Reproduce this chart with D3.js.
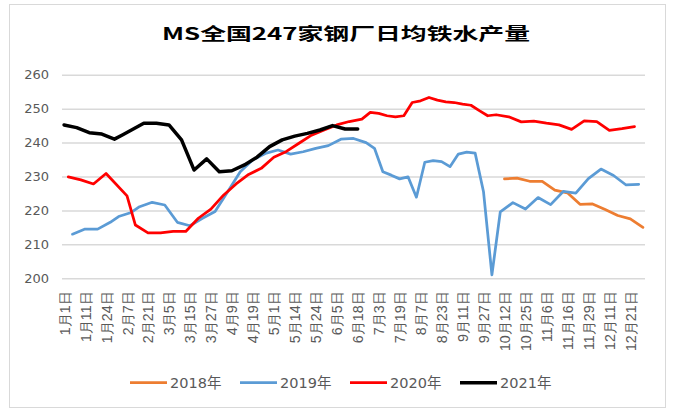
<!DOCTYPE html>
<html>
<head>
<meta charset="utf-8">
<script src="https://cdn.jsdelivr.net/npm/d3@7"></script>
<style>
  body { margin: 0; background: #fff; }
  svg { display: block; }
</style>
</head>
<body>
<svg id="chart"></svg>
<script>
const width = 674;
const height = 412;
const title = 'MS全国247家钢厂日均铁水产量';

// weekly survey dates (month/day) and values per year
const dates2018 = ['10/12', '10/19', '10/26', '11/2', '11/9', '11/16', '11/23', '11/30', '12/7', '12/14', '12/21', '12/28'];
const values2018 = [229.3, 229.5, 228.6, 228.6, 226.0, 225.2, 221.8, 221.9, 220.3, 218.5, 217.5, 215.0];

const dates2019 = ['1/4', '1/11', '1/18', '1/25', '2/1', '2/8', '2/15', '2/22', '3/1', '3/8', '3/15', '3/22', '3/29',
    '4/5', '4/12', '4/19', '4/26', '5/3', '5/10', '5/17', '5/24', '5/31', '6/7', '6/14', '6/21', '6/28',
    '7/5', '7/12', '7/19', '7/26', '8/2', '8/9', '8/16', '8/23', '8/30', '9/6', '9/13', '9/20', '9/27',
    '10/4', '10/11', '10/18', '10/25', '11/1', '11/8', '11/15', '11/22', '11/29', '12/6', '12/13', '12/20', '12/27'];
const values2019 = [213.0, 214.5, 214.5, 216.5, 218.2, 219.4, 221.1, 222.4, 221.6, 216.5, 215.5, 217.7, 219.7,
    225.5, 231.4, 234.9, 236.8, 237.8, 236.6, 237.3, 238.3, 239.1, 241.0, 241.2, 240.0, 238.3,
    231.4, 230.4, 229.3, 229.9, 223.9, 234.2, 234.7, 234.4, 232.9, 236.6, 237.2, 236.9, 225.5,
    201.0, 219.6, 222.3, 220.4, 223.8, 221.7, 225.6, 225.1, 229.4, 232.2, 230.3, 227.5, 227.7];

const dates2020 = ['1/3', '1/10', '1/17', '1/24', '2/7', '2/14', '2/21', '2/28', '3/6', '3/13', '3/20', '3/27',
    '4/3', '4/10', '4/17', '4/24', '5/1', '5/8', '5/15', '5/22', '5/29', '6/5', '6/12', '6/19', '6/26',
    '7/3', '7/10', '7/17', '7/24', '7/31', '8/7', '8/14', '8/21', '8/28', '9/4', '9/11', '9/18', '9/25',
    '10/2', '10/9', '10/16', '10/23', '10/30', '11/6', '11/13', '11/20', '11/27', '12/4', '12/11', '12/18', '12/25'];
const values2020 = [229.9, 229.0, 227.8, 230.9, 224.3, 215.7, 213.4, 213.4, 213.8, 213.8, 217.7, 220.4,
    224.5, 227.8, 230.6, 232.4, 235.7, 237.4, 239.8, 242.2, 243.7, 245.2, 246.2, 246.9, 248.9,
    248.6, 247.9, 247.6, 247.9, 251.8, 252.3, 253.3, 252.5, 252.0, 251.8, 251.3, 251.0, 249.4,
    247.9, 248.2, 247.6, 246.1, 246.3, 245.7, 245.2, 243.9, 246.4, 246.2, 243.6, 244.1, 244.7];

const dates2021 = ['1/1', '1/8', '1/15', '1/22', '1/29', '2/5', '2/19', '2/26', '3/5', '3/12', '3/19', '3/26',
    '4/2', '4/9', '4/16', '4/23', '4/30', '5/7', '5/14', '5/21', '5/28', '6/4', '6/11', '6/18'];
const values2021 = [245.2, 244.4, 242.9, 242.5, 241.0, 242.3, 245.7, 245.7, 245.2, 240.8, 231.9, 235.2,
    231.4, 231.7, 233.4, 235.7, 238.8, 240.8, 241.9, 242.7, 243.7, 245.0, 244.0, 244.0];

// labelled categories on the x axis
const tickDates = ['1/1', '1/11', '1/24', '2/7', '2/21', '3/5', '3/15', '3/27', '4/9', '4/19', '5/1', '5/14',
    '5/24', '6/5', '6/18', '7/3', '7/19', '8/7', '8/23', '9/11', '9/27', '10/12', '10/25', '11/6',
    '11/16', '11/29', '12/11', '12/21'];
const yTicks = [200, 210, 220, 230, 240, 250, 260];

const series = [
    { name: '2018年', color: '#ED7D31', width: 2.75, dates: dates2018, values: values2018 },
    { name: '2019年', color: '#5B9BD5', width: 2.75, dates: dates2019, values: values2019 },
    { name: '2020年', color: '#FF0000', width: 2.75, dates: dates2020, values: values2020 },
    { name: '2021年', color: '#000000', width: 3.5, dates: dates2021, values: values2021 }
];

const dayKey = s => { const [m, d] = s.split('/').map(Number); return m * 100 + d; };
const label = s => { const [m, d] = s.split('/'); return `${m}月${d}日`; };

// category axis = every survey date of every year, in calendar order
const categories = Array.from(new Set(series.flatMap(s => s.dates)))
    .sort((a, b) => dayKey(a) - dayKey(b));

const svg = d3.select('#chart')
    .attr('width', width)
    .attr('height', height)
    .style('font-family', '"DejaVu Sans", "Noto Sans CJK SC", sans-serif');

// chart border
svg.append('rect')
    .attr('x', 9.5).attr('y', 4.5)
    .attr('width', 656).attr('height', 403)
    .attr('fill', 'none')
    .attr('stroke', '#d9d9d9')
    .attr('stroke-width', 1);

svg.append('text')
    .attr('x', 346).attr('y', 39.5)
    .attr('text-anchor', 'middle')
    .attr('textLength', 368)
    .attr('lengthAdjust', 'spacingAndGlyphs')
    .style('font-family', '"Noto Sans CJK SC", sans-serif')
    .style('font-weight', 'bold')
    .style('font-size', '17px')
    .attr('fill', '#000')
    .text(title);

const x = d3.scalePoint()
    .domain(categories)
    .range([62, 645])
    .padding(0.5);

const y = d3.scaleLinear()
    .domain([200, 260])
    .range([278.3, 74.7]);

// gridlines + y labels
const yAxis = svg.append('g')
    .attr('transform', 'translate(62,0)')
    .call(d3.axisLeft(y).tickValues(yTicks).tickSize(-583).tickPadding(13).tickFormat(d3.format('d')));
yAxis.select('.domain').remove();
yAxis.selectAll('line').attr('stroke', '#d9d9d9').attr('stroke-width', 1.5);
yAxis.selectAll('text')
    .attr('fill', '#595959')
    .style('font-size', '13px')
    .style('font-family', '"DejaVu Sans", sans-serif');

// x labels, rotated
const xAxis = svg.append('g')
    .attr('transform', 'translate(0,278.3)')
    .call(d3.axisBottom(x).tickValues(tickDates).tickSize(0).tickFormat(label));
xAxis.select('.domain').remove();
xAxis.selectAll('text')
    .attr('fill', '#595959')
    .style('font-size', '14.3px')
    .attr('text-anchor', 'end')
    .attr('dy', null)
    .attr('dominant-baseline', 'central')
    .attr('y', 0)
    .attr('transform', 'translate(0,13) rotate(-90)');

// series lines
const line = d3.line()
    .x(d => x(d[0]))
    .y(d => y(d[1]));

svg.append('g')
    .selectAll('path')
    .data(series)
    .join('path')
    .attr('d', s => line(s.dates.map((dt, i) => [dt, s.values[i]])))
    .attr('fill', 'none')
    .attr('stroke', s => s.color)
    .attr('stroke-width', s => s.width)
    .attr('stroke-linejoin', 'round')
    .attr('stroke-linecap', 'round');

// legend
const legend = svg.append('g')
    .selectAll('g')
    .data(series)
    .join('g')
    .attr('transform', (s, i) => `translate(${130 + i * 110},382.7)`);
legend.append('line')
    .attr('x1', 0).attr('x2', 37)
    .attr('stroke', s => s.color)
    .attr('stroke-width', s => s.width);
legend.append('text')
    .attr('x', 40)
    .attr('dominant-baseline', 'central')
    .attr('fill', '#595959')
    .style('font-size', '14.5px')
    .text(s => s.name);
</script>
</body>
</html>
